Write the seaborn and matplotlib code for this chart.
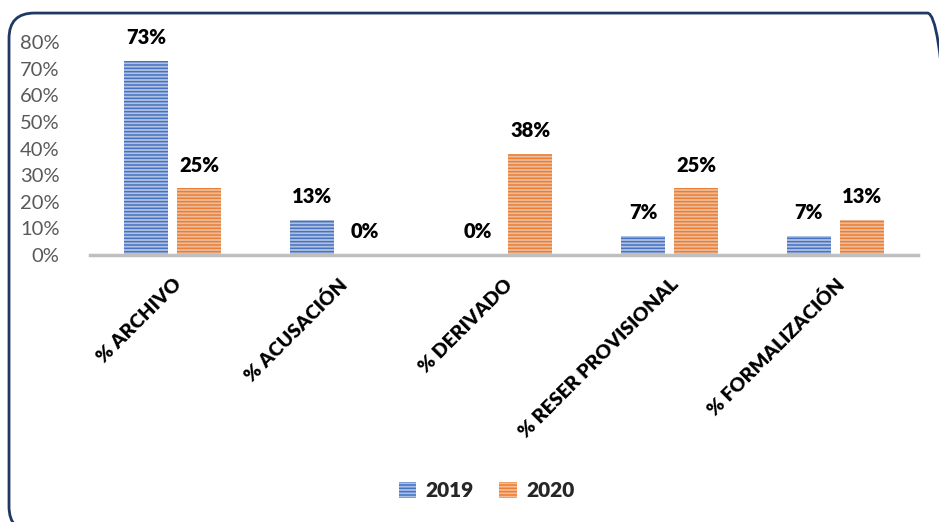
import pandas as pd
import numpy as np
import seaborn as sns
import matplotlib.pyplot as plt
from matplotlib.patches import FancyBboxPatch

# values
categorias = ['% ARCHIVO', '% ACUSACIÓN', '% DERIVADO', '% RESER PROVISIONAL', '% FORMALIZACIÓN']
val_2019 = [0.73, 0.13, 0.00, 0.07, 0.07]
val_2020 = [0.25, 0.00, 0.38, 0.25, 0.13]
anios = ['2019', '2020']

df = pd.DataFrame({
    'categoria': categorias * 2,
    'valor': val_2019 + val_2020,
    'anio': [anios[0]] * len(categorias) + [anios[1]] * len(categorias),
})

sns.set_theme(style='white')
plt.rcParams['font.family'] = ['Lato', 'DejaVu Sans']
plt.rcParams['hatch.linewidth'] = 1.1

face = {'2019': '#a9bfe6', '2020': '#f7bb92'}
edge = {'2019': '#4472c4', '2020': '#ed7d31'}

fig = plt.figure(figsize=(9.39, 5.22), dpi=100)
ax = fig.add_axes([0.0958, 0.5115, 0.8818, 0.408])

sns.barplot(data=df, x='categoria', y='valor', hue='anio', order=categorias,
            hue_order=anios, palette=face, width=0.64, gap=0.17, ax=ax,
            legend=False)

for cont, anio in zip(ax.containers, anios):
    for p in cont:
        p.set_edgecolor(edge[anio])
        p.set_hatch('-----')
        p.set_linewidth(0)
    ax.bar_label(cont, labels=[f'{v.get_height() * 100:.0f}%' for v in cont],
                 padding=10, fontsize=14.5, fontweight='heavy', color='black',
                 clip_on=False)

ax.set_ylim(0, 0.8)
ax.set_yticks(np.arange(0, 0.81, 0.1))
ax.set_yticklabels([f'{int(round(t * 100))}%' for t in np.arange(0, 0.81, 0.1)],
                   fontsize=14.5, color='#595959')
ax.set_xlim(-0.5, 4.5)
ax.set_xlabel('')
ax.set_ylabel('')
for s in ['top', 'right', 'left']:
    ax.spines[s].set_visible(False)
ax.spines['bottom'].set_color('#bfbfbf')
ax.spines['bottom'].set_linewidth(2.5)
ax.tick_params(axis='both', length=0)
ax.tick_params(axis='y', pad=22)
ax.tick_params(axis='x', pad=15)
plt.setp(ax.get_xticklabels(), rotation=45, ha='right', rotation_mode='anchor',
         fontsize=14, fontweight='heavy', color='black')

# legend
handles = [plt.Rectangle((0, 0), 1, 1, facecolor=face[a], edgecolor=edge[a],
                         hatch='-----', linewidth=0) for a in anios]
leg = fig.legend(handles, anios, loc='center', bbox_to_anchor=(0.518, 0.06), ncol=2,
                 frameon=False, fontsize=15,
                 handlelength=0.85, handleheight=0.85, columnspacing=1.2,
                 handletextpad=0.45)
for t in leg.get_texts():
    t.set_fontweight('heavy')

# rounded frame around the chart area (runs past the right and bottom edges)
frame = FancyBboxPatch((0.0096, -0.019), 1.005, 0.994, transform=fig.transFigure,
                       boxstyle='round,pad=0,rounding_size=0.027',
                       facecolor='none', edgecolor='#1f3864', linewidth=2,
                       mutation_aspect=939 / 522, clip_on=False)
fig.patches.append(frame)

fig.savefig('out.png', dpi=100)
